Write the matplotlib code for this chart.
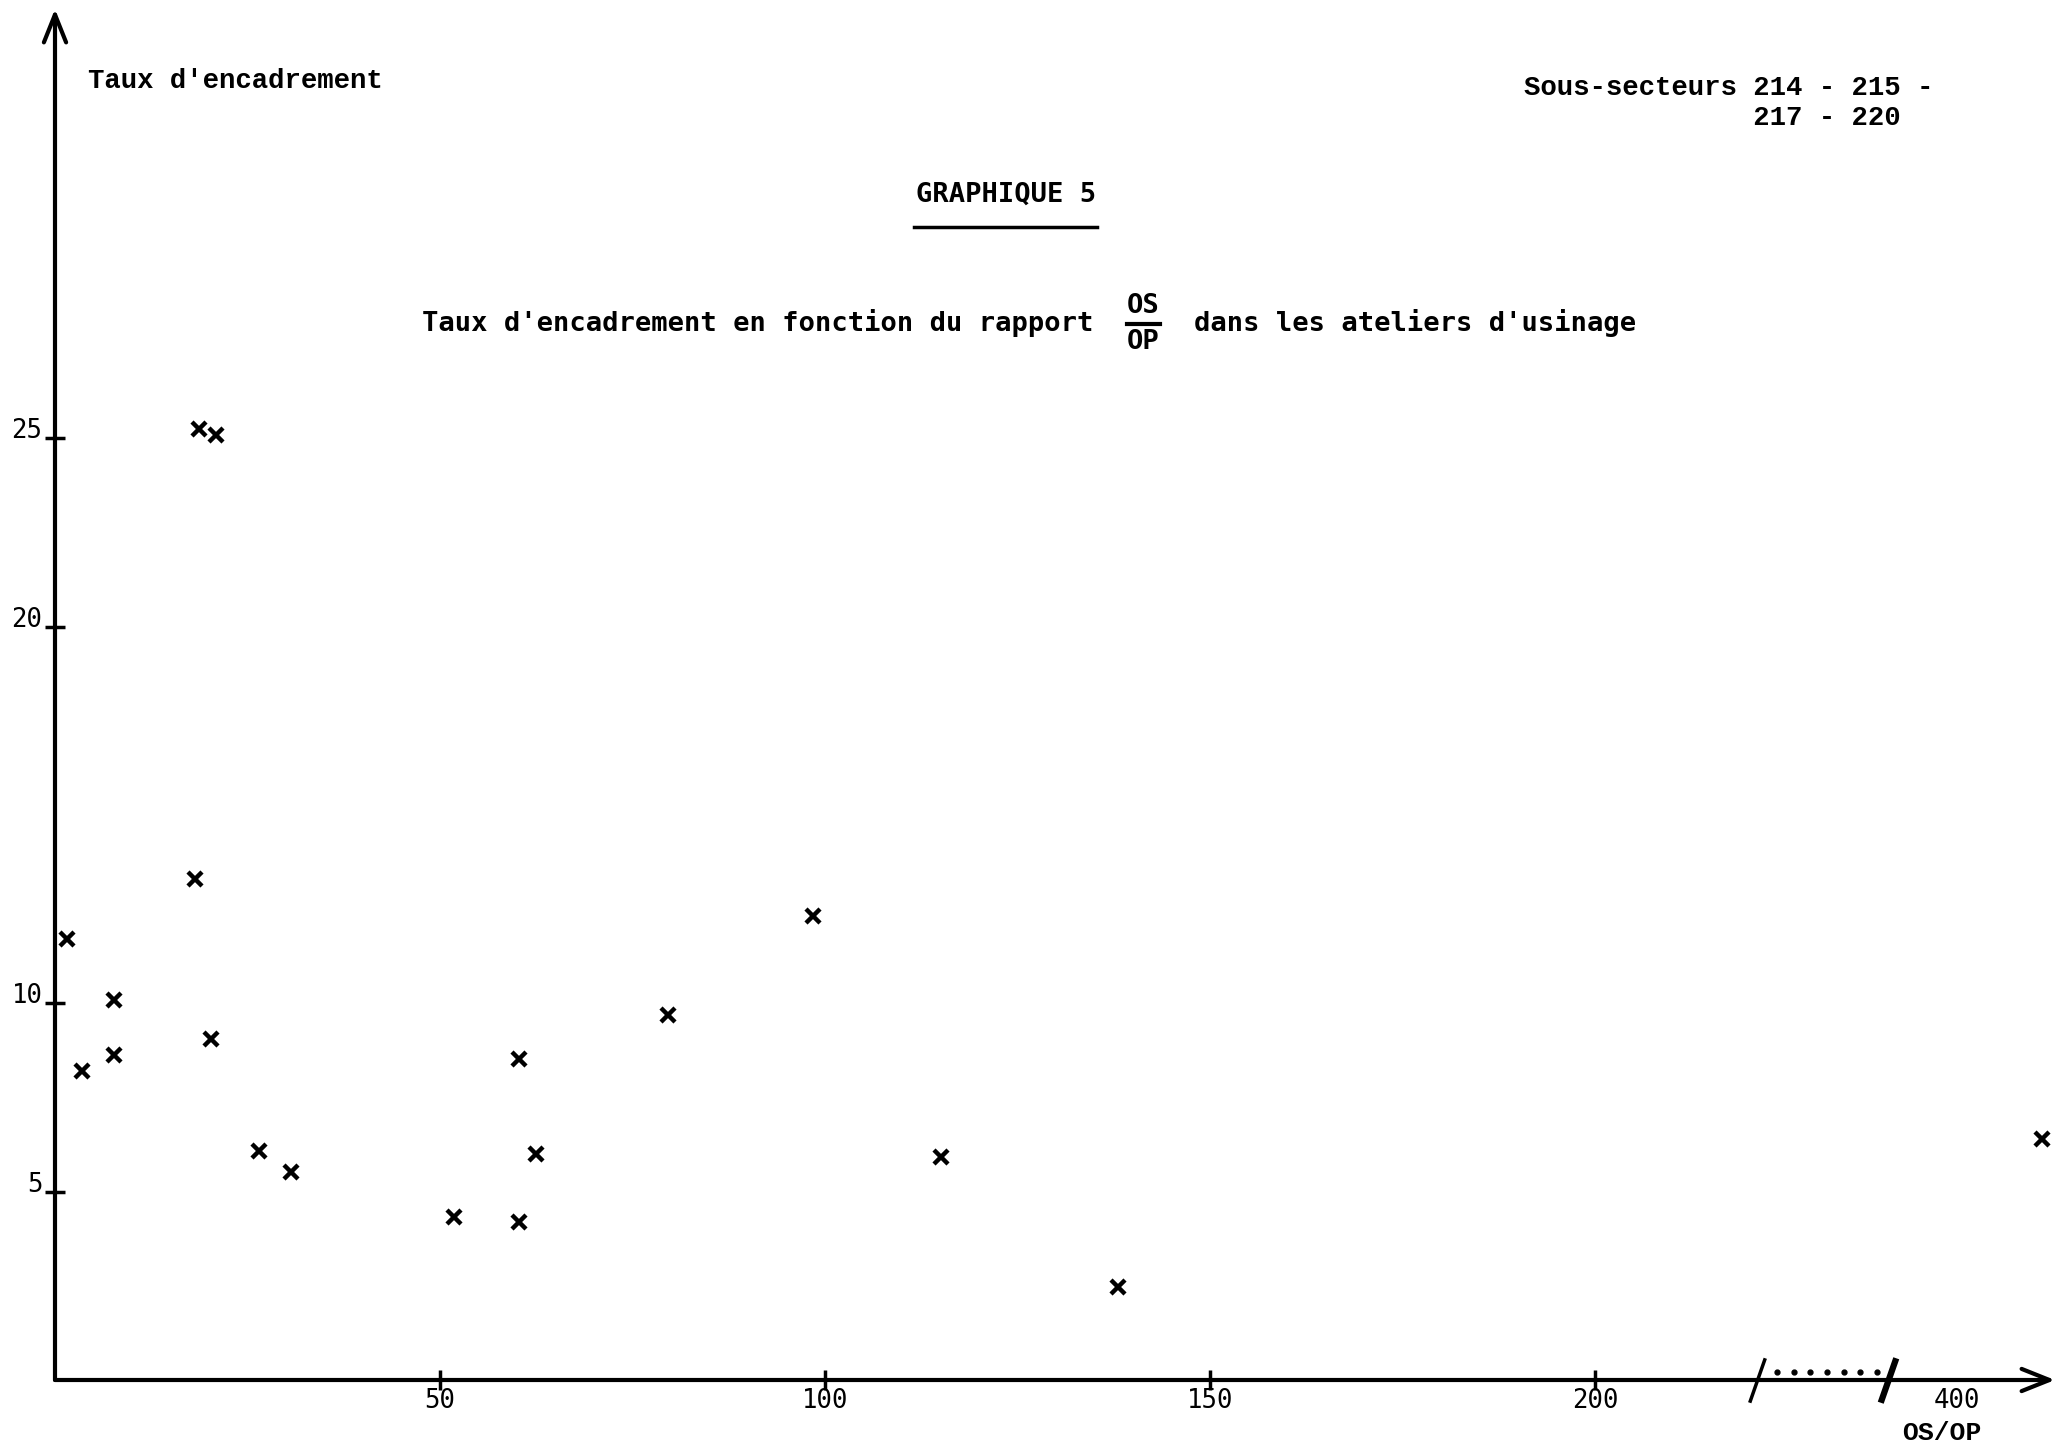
import numpy as np
import matplotlib
matplotlib.use('Agg')
import matplotlib.pyplot as plt
from matplotlib.lines import Line2D

# values
os_op = [1.5, 3.5, 7.7, 7.7, 18.2, 18.7, 20.9, 20.2, 26.5, 30.6,
         51.8, 60.3, 60.2, 62.4, 79.6, 98.4, 115.1, 138.0, 411.0]
taux = [11.7, 8.21, 10.08, 8.63, 13.3, 25.24, 25.1, 9.06, 6.07, 5.53,
        4.33, 8.53, 4.19, 6.0, 9.68, 12.33, 5.92, 2.47, 6.41]

x_ticks = [50, 100, 150, 200, 400]
x_tick_labels = ['50', '100', '150', '200', '400']
y_ticks = [5, 10, 20, 25]
y_tick_labels = ['5', '10', '20', '25']

# broken x axis: 220..390 squeezed into 17 units
BREAK_LO, BREAK_HI, BREAK_GAP = 220.0, 390.0, 17.0
SHIFT = BREAK_HI - BREAK_LO - BREAK_GAP


def fwd(x):
    x = np.asarray(x, dtype=float)
    mid = BREAK_LO + (x - BREAK_LO) * BREAK_GAP / (BREAK_HI - BREAK_LO)
    return np.where(x <= BREAK_LO, x, np.where(x < BREAK_HI, mid, x - SHIFT))


def inv(u):
    u = np.asarray(u, dtype=float)
    mid = BREAK_LO + (u - BREAK_LO) * (BREAK_HI - BREAK_LO) / BREAK_GAP
    return np.where(u <= BREAK_LO, u, np.where(u < BREAK_LO + BREAK_GAP, mid, u + SHIFT))


W, H = 2057, 1450


def fx(px):
    return px / W


def fy(py):
    return 1 - py / H


fig = plt.figure(figsize=(W / 100, H / 100), dpi=100)
fig.patch.set_facecolor('white')
ax = fig.add_axes([fx(55), 70 / H, 2000 / W, 1371 / H])
ax.set_xscale('function', functions=(fwd, inv))
ax.set_xlim(0, 412.7)
ax.set_ylim(0, 36.4)
for s in ax.spines.values():
    s.set_visible(False)

arrow = dict(arrowstyle='->,head_length=2.0,head_width=0.8', lw=3,
             color='black', shrinkA=0, shrinkB=0)
ax.annotate('', xy=(0, 1), xytext=(0, 0), xycoords='axes fraction', arrowprops=arrow)
ax.annotate('', xy=(1, 0), xytext=(0, 0), xycoords='axes fraction', arrowprops=arrow)

ax.plot(os_op, taux, linestyle='none', marker='x', ms=10, mew=3.2,
        color='black', clip_on=False)

tick_font = dict(fontfamily='DejaVu Sans Mono', fontsize=18.5)
ax.set_xticks(x_ticks)
ax.set_xticklabels(x_tick_labels, **tick_font)
ax.set_yticks(y_ticks)
ax.set_yticklabels(y_tick_labels, va='baseline', **tick_font)
ax.minorticks_off()
ax.tick_params(axis='both', direction='inout', length=14, width=2.5, color='black')
ax.tick_params(axis='x', pad=-1)
ax.tick_params(axis='y', pad=2)
ax.xaxis.get_major_ticks()[-1].tick1line.set_visible(False)

# break marks and dots on the x axis
slash = [(-0.35, -1), (0.35, 1)]
ax.plot(inv([221.0]), [0], marker=slash, ms=32, mew=2.5, color='black', clip_on=False)
ax.plot(inv([238.0]), [0], marker=slash, ms=32, mew=4.5, color='black', clip_on=False)
ax.plot(inv(np.linspace(223.6, 236.6, 7)), [0.2] * 7, linestyle='none',
        marker='o', ms=3.5, color='black', clip_on=False)

fig.text(fx(1942), fy(1433), 'OS/OP', ha='center', va='center',
         fontfamily='Liberation Mono', fontweight='bold', fontsize=19)

# header texts
courier = dict(fontfamily='Liberation Mono', fontweight='bold', fontsize=19.7)
fig.text(fx(88), fy(81), "Taux d'encadrement", ha='left', va='center', **courier)
fig.text(fx(1524), fy(103), "Sous-secteurs 214 - 215 -\n              217 - 220",
         ha='left', va='center', linespacing=1.2, **courier)

mono = dict(fontfamily='DejaVu Sans Mono', fontweight='bold', fontsize=19.5)
fig.text(fx(1006), fy(195), 'GRAPHIQUE 5', ha='center', va='center', **mono)
fig.add_artist(Line2D([fx(914), fx(1097)], [fy(227), fy(227)], lw=2.5, color='black'))

fig.text(fx(1093), fy(323), "Taux d'encadrement en fonction du rapport",
         ha='right', va='center', **mono)
fig.text(fx(1143), fy(306), 'OS', ha='center', va='center', **mono)
fig.text(fx(1143), fy(342), 'OP', ha='center', va='center', **mono)
fig.add_artist(Line2D([fx(1127), fx(1160)], [fy(324), fy(324)], lw=3, color='black'))
fig.text(fx(1194), fy(323), "dans les ateliers d'usinage",
         ha='left', va='center', **mono)

fig.savefig('out.png', dpi=100, facecolor='white')
